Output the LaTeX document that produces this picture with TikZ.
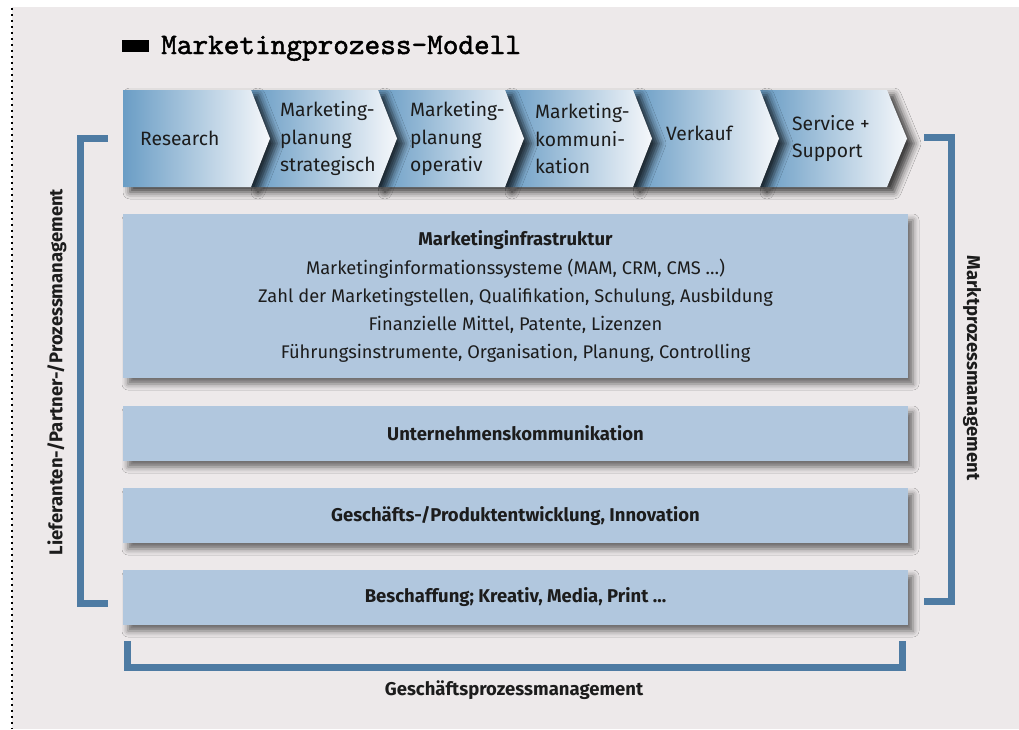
\documentclass[tikz,border=0pt]{standalone}
\usepackage{fontspec}
\setmainfont{Fira Sans}
\newfontfamily\titlefont[FakeBold=1.6]{lmmono10-regular.otf}
\usetikzlibrary{shadows.blur}
\definecolor{bggrey}{HTML}{EDE9EA}
\definecolor{boxblue}{HTML}{B1C7DE}
\definecolor{brblue}{HTML}{4E7BA3}
\definecolor{chevL}{HTML}{6A9DC5}
\definecolor{chevR}{HTML}{F6F8FB}
\definecolor{txt}{HTML}{1C1C1C}
\tikzset{
  chev/.style={left color=chevL, right color=chevR, draw=none,
    blur shadow={shadow xshift=7pt, shadow yshift=-5pt, shadow blur radius=7pt, shadow opacity=75}},
  chevtext/.style={anchor=west, align=left, text=txt, inner sep=0pt,
    font=\fontsize{19.3}{27.5}\selectfont},
  panel/.style={fill=boxblue, draw=none, minimum width=785pt, inner sep=0pt,
    text=txt, align=center,
    blur shadow={shadow xshift=5pt, shadow yshift=-6pt, shadow blur radius=6pt, shadow opacity=55}},
  boldlabel/.style={font=\bfseries\fontsize{18.5}{20}\selectfont, text=txt},
  bracket/.style={draw=brblue, line width=7pt, line join=miter, line cap=butt},
}
\begin{document}
\begin{tikzpicture}[x=1pt,y=-1pt]
\useasboundingbox (0,0) rectangle (1019,729);
\fill[bggrey] (12,7) rectangle (1019,729);
\draw[line width=1.5pt, dash pattern=on 1.5pt off 4.5pt] (12,8) -- (12,729);

% title
\fill[black] (122,40) rectangle (149,52);
\node[anchor=base west, inner sep=0pt, font=\titlefont\fontsize{29.8}{30}\selectfont] (title) at (161,54) {Marketingprozess-Modell};

% chevrons (drawn right to left so each shadow falls on the next one)
\path[chev] (760,90) -- (887,90) -- (907,138.5) -- (887,187) -- (760,187) -- (779,138.5) -- cycle;
\path[chev] (633,90) -- (760,90) -- (779,138.5) -- (760,187) -- (633,187) -- (652,138.5) -- cycle;
\path[chev] (505,90) -- (633,90) -- (652,138.5) -- (633,187) -- (505,187) -- (524,138.5) -- cycle;
\path[chev] (378,90) -- (505,90) -- (524,138.5) -- (505,187) -- (378,187) -- (397,138.5) -- cycle;
\path[chev] (251,90) -- (378,90) -- (397,138.5) -- (378,187) -- (251,187) -- (270,138.5) -- cycle;
\path[chev] (123,90) -- (251,90) -- (270,138.5) -- (251,187) -- (123,187) -- cycle;

\node[chevtext] (c1) at (140,138.5) {Research};
\node[chevtext] (c2) at (280,139) {Marketing-\\planung\\strategisch};
\node[chevtext] (c3) at (410,139) {Marketing-\\planung\\operativ};
\node[chevtext] (c4) at (535,139) {Marketing-\\kommuni-\\kation};
\node[chevtext] (c5) at (666,133) {Verkauf};
\node[chevtext] (c6) at (792,138.5) {Service +\\Support};

% panels
\node[panel, minimum height=164pt, font=\fontsize{18.3}{28}\selectfont] (infra) at (515.5,296) {%
  {\bfseries\fontsize{18.5}{20}\selectfont Marketinginfrastruktur}\\[1pt]
  Marketinginformationssysteme (MAM, CRM, CMS …)\\
  Zahl der Marketingstellen, Qualifikation, Schulung, Ausbildung\\
  Finanzielle Mittel, Patente, Lizenzen\\
  Führungsinstrumente, Organisation, Planung, Controlling};
\node[panel, minimum height=55pt, boldlabel] (unter) at (515.5,433.5) {Unternehmenskommunikation};
\node[panel, minimum height=55pt, boldlabel] (gesch) at (515.5,515.5) {Geschäfts-/Produktentwicklung, Innovation};
\node[panel, minimum height=55pt, boldlabel] (besch) at (515.5,597.5) {Beschaffung; Kreativ, Media, Print …};

% brackets
\draw[bracket] (107.5,138.5) -- (80,138.5) -- (80,603.5) -- (108,603.5);
\draw[bracket] (924,137.5) -- (951.5,137.5) -- (951.5,601.5) -- (924,601.5);
\draw[bracket] (127.5,641) -- (127.5,667.5) -- (902.5,667.5) -- (902.5,641);

% bracket labels
\node[boldlabel, rotate=90] (lblL) at (57,372) {Lieferanten-/Partner-/Prozessmanagement};
\node[boldlabel, rotate=-90] (lblR) at (972,368) {Marktprozessmanagement};
\node[boldlabel] (lblB) at (514,690) {Geschäftsprozessmanagement};
\end{tikzpicture}
\end{document}
